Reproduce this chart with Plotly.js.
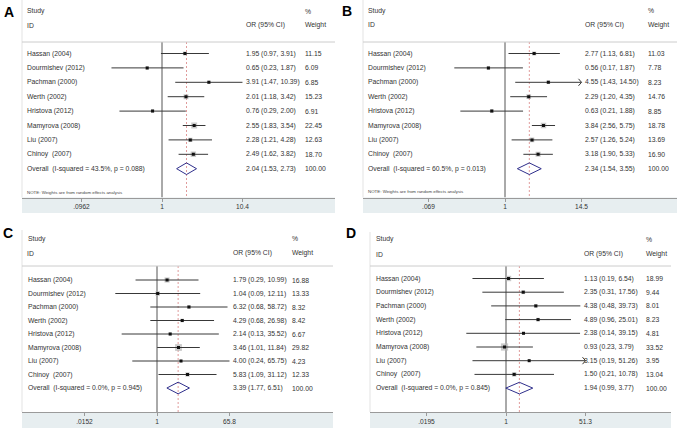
<!DOCTYPE html>
<html>
<head>
<meta charset="utf-8">
<script src="https://cdn.plot.ly/plotly-3.0.1.min.js"></script>
<style>html,body{margin:0;padding:0;background:#fff;}#chart{width:677px;height:433px;}</style>
</head>
<body>
<div id="chart"></div>
<script>
// ---------- data ----------
const studies = ['Hassan (2004)', 'Dourmishev (2012)', 'Pachman (2000)', 'Werth (2002)', 'Hristova (2012)', 'Mamyrova (2008)', 'Liu (2007)', 'Chinoy\u00a0 (2007)'];

const orA = [1.95, 0.65, 3.91, 2.01, 0.76, 2.55, 2.28, 2.49];
const loA = [0.97, 0.23, 1.47, 1.18, 0.29, 1.83, 1.21, 1.62];
const hiA = [3.91, 1.87, 10.39, 3.42, 2.00, 3.54, 4.28, 3.82];
const wA  = [11.15, 6.09, 6.85, 15.23, 6.91, 22.45, 12.63, 18.70];
const overallA = [2.04, 1.53, 2.73];
const hetA = 'I-squared = 43.5%, p = 0.088';
const ticksA = [0.0962, 1, 10.4];
const tickTextA = ['.0962', '1', '10.4'];
const arrowA = [false, false, false, false, false, false, false, false];

const orB = [2.77, 0.56, 4.55, 2.29, 0.63, 3.84, 2.57, 3.18];
const loB = [1.13, 0.17, 1.43, 1.20, 0.21, 2.56, 1.26, 1.90];
const hiB = [6.81, 1.87, 14.50, 4.35, 1.88, 5.75, 5.24, 5.33];
const wB  = [11.03, 7.78, 8.23, 14.76, 8.85, 18.78, 13.69, 16.90];
const overallB = [2.34, 1.54, 3.55];
const hetB = 'I-squared = 60.5%, p = 0.013';
const ticksB = [0.069, 1, 14.5];
const tickTextB = ['.069', '1', '14.5'];
const arrowB = [false, false, true, false, false, false, false, false];

const orC = [1.79, 1.04, 6.32, 4.29, 2.14, 3.46, 4.00, 5.83];
const loC = [0.29, 0.09, 0.68, 0.68, 0.13, 1.01, 0.24, 1.09];
const hiC = [10.99, 12.11, 58.72, 26.98, 35.52, 11.84, 65.75, 31.12];
const wC  = [16.88, 13.33, 8.32, 8.42, 6.67, 29.82, 4.23, 12.33];
const overallC = [3.39, 1.77, 6.51];
const hetC = 'I-squared = 0.0%, p = 0.945';
const ticksC = [0.0152, 1, 65.8];
const tickTextC = ['.0152', '1', '65.8'];
const arrowC = [false, false, false, false, false, false, false, false];

const orD = [1.13, 2.35, 4.38, 4.89, 2.38, 0.93, 3.15, 1.50];
const loD = [0.19, 0.31, 0.48, 0.96, 0.14, 0.23, 0.19, 0.21];
const hiD = [6.54, 17.56, 39.73, 25.01, 39.15, 3.79, 51.26, 10.78];
const wD  = [18.99, 9.44, 8.01, 8.23, 4.81, 33.52, 3.95, 13.04];
const overallD = [1.94, 0.99, 3.77];
const hetD = 'I-squared = 0.0%, p = 0.845';
const ticksD = [0.0195, 1, 51.3];
const tickTextD = ['.0195', '1', '51.3'];
const arrowD = [false, false, false, false, false, false, true, false];

const noteText = 'NOTE: Weights are from random effects analysis';

// ---------- layout geometry (pixels) ----------
const W = 677, H = 433;
const panels = [
  {letter: 'A', or: orA, lo: loA, hi: hiA, w: wA, overall: overallA, het: hetA, ticks: ticksA, tickText: tickTextA, arrow: arrowA, note: true,
   g: {left: 22, right: 335, top: 0, bottom: 197.5, band: 213, row0: 53.5, step: 14.4, studyY: 11, idY: 25, sepY: 42, noteY: 192, nullPx: 162, loPx: 82, hiPx: 243, tS: 25, tOR: 244, tW: 303, lx: 9, ly: 12}},
  {letter: 'B', or: orB, lo: loB, hi: hiB, w: wB, overall: overallB, het: hetB, ticks: ticksB, tickText: tickTextB, arrow: arrowB, note: true,
   g: {left: 363, right: 677, top: 0, bottom: 197.5, band: 213, row0: 53.5, step: 14.4, studyY: 10.5, idY: 24.5, sepY: 42, noteY: 191.5, nullPx: 505, loPx: 428, hiPx: 581, tS: 366, tOR: 583, tW: 646, lx: 347, ly: 11}},
  {letter: 'C', or: orC, lo: loC, hi: hiC, w: wC, overall: overallC, het: hetC, ticks: ticksC, tickText: tickTextC, arrow: arrowC, note: false,
   g: {left: 22, right: 333, top: 230, bottom: 412, band: 428, row0: 280, step: 13.5, studyY: 239, idY: 253.5, sepY: 266, noteY: null, nullPx: 157, loPx: 82, hiPx: 227, tS: 25.5, tOR: 231, tW: 290, lx: 8, ly: 233}},
  {letter: 'D', or: orD, lo: loD, hi: hiD, w: wD, overall: overallD, het: hetD, ticks: ticksD, tickText: tickTextD, arrow: arrowD, note: false,
   g: {left: 370, right: 671, top: 232, bottom: 412, band: 428, row0: 278.5, step: 13.7, studyY: 239, idY: 254, sepY: 266, noteY: null, nullPx: 506, loPx: 426, hiPx: 585, tS: 374, tOR: 582, tW: 644, lx: 351, ly: 233}}
];

const FONT = 'Liberation Sans, Arial, Helvetica, sans-serif';
const TXT = '#333';
const fs = 6.8;
const traces = [];
const annotations = [];
const shapes = [];
const layout = {
  width: W, height: H, margin: {l: 0, r: 0, t: 0, b: 0},
  paper_bgcolor: '#fff', plot_bgcolor: '#fff', showlegend: false,
  font: {family: FONT, color: TXT, size: fs}
};

const f2 = v => v.toFixed(2);

panels.forEach((p, k) => {
  const g = p.g;
  const sfx = k === 0 ? '' : String(k + 1);
  const xa = 'x' + sfx, ya = 'y' + sfx;
  const xDom = xa + ' domain';
  const lg = Math.log10;
  const scale = (g.hiPx - g.loPx) / (lg(p.ticks[2]) - lg(p.ticks[0]));
  const xr = [-(g.nullPx - g.left) / scale, (g.right - g.nullPx) / scale];
  const rowOf = py => (py - g.row0) / g.step;
  const yr = [rowOf(g.bottom), rowOf(g.top)];

  layout['xaxis' + sfx] = {
    domain: [g.left / W, g.right / W], anchor: ya, type: 'log', range: xr,
    tickmode: 'array', tickvals: p.ticks, ticktext: p.tickText,
    showline: true, linecolor: '#9a9a9a', linewidth: 1, ticks: 'outside', ticklen: 3, tickcolor: '#9a9a9a', tickwidth: 1,
    showgrid: false, zeroline: false, tickfont: {size: 6.6, color: '#333', family: FONT}, fixedrange: true
  };
  layout['yaxis' + sfx] = {
    domain: [1 - g.bottom / H, 1 - g.top / H], anchor: xa, range: yr, visible: false, fixedrange: true
  };

  shapes.push({type: 'rect', xref: 'paper', yref: 'paper', x0: g.left / W, x1: g.right / W, y0: 1 - g.band / H, y1: 1 - g.bottom / H,
    fillcolor: '#e7eef0', line: {width: 0}, layer: 'below'});
  shapes.push({type: 'line', xref: 'paper', yref: 'paper', x0: g.left / W, x1: g.left / W, y0: 1 - g.bottom / H, y1: 1 - g.top / H,
    line: {color: '#e3e3e3', width: 1}});
  shapes.push({type: 'line', xref: xDom, yref: ya, x0: 0, x1: 1, y0: rowOf(g.sepY), y1: rowOf(g.sepY),
    line: {color: '#cccccc', width: 1}});

  const rows = p.or.map((_, i) => i);
  const nRows = rows.length;
  const ySep = rowOf(g.sepY), yBot = rowOf(g.bottom);
  const xMax = p.ticks[2];

  traces.push({x: [1, 1], y: [ySep, yBot], xaxis: xa, yaxis: ya, mode: 'lines', line: {color: '#555', width: 1}, hoverinfo: 'skip'});
  traces.push({x: [p.overall[0], p.overall[0]], y: [ySep, yBot], xaxis: xa, yaxis: ya, mode: 'lines',
    line: {color: '#dc9090', width: 0.9, dash: '2px,2px'}, hoverinfo: 'skip'});

  traces.push({x: p.or, y: rows, xaxis: xa, yaxis: ya, mode: 'markers',
    marker: {symbol: 'square', size: p.w.map(v => 1.25 * Math.sqrt(v)), color: '#b5b5b5', line: {width: 0}}, hoverinfo: 'skip'});

  const cx = [], cy = [];
  rows.forEach(i => {
    cx.push(p.lo[i], p.arrow[i] ? xMax : p.hi[i], null);
    cy.push(i, i, null);
  });
  traces.push({x: cx, y: cy, xaxis: xa, yaxis: ya, mode: 'lines', line: {color: '#383838', width: 1}, hoverinfo: 'skip'});

  const ax = [], ay = [];
  const back = Math.pow(10, -3 / scale);
  const half = 3.5 / g.step;
  rows.forEach(i => {
    if (p.arrow[i]) {
      ax.push(xMax * back, xMax, xMax * back, null);
      ay.push(i - half, i, i + half, null);
    }
  });
  if (ax.length) traces.push({x: ax, y: ay, xaxis: xa, yaxis: ya, mode: 'lines', line: {color: '#383838', width: 1}, hoverinfo: 'skip'});

  traces.push({x: p.or, y: rows, xaxis: xa, yaxis: ya, mode: 'markers',
    marker: {symbol: 'square', size: 3, color: '#111', line: {width: 0}}, hoverinfo: 'skip'});

  const ov = nRows;
  const dh = 5.8 / g.step;
  traces.push({x: [p.overall[1], p.overall[0], p.overall[2], p.overall[0], p.overall[1]],
    y: [ov, ov - dh, ov, ov + dh, ov], xaxis: xa, yaxis: ya, mode: 'lines',
    line: {color: '#2f2f8c', width: 1}, hoverinfo: 'skip'});

  const fx = px => (px - g.left) / (g.right - g.left);
  const ann = (text, px, yv, extra) => annotations.push(Object.assign({
    text: text, xref: xDom, yref: ya, x: fx(px), y: yv, xanchor: 'left', yanchor: 'middle',
    showarrow: false, font: {size: fs, color: TXT, family: FONT}
  }, extra || {}));

  ann('Study', g.tS, rowOf(g.studyY));
  ann('ID', g.tS, rowOf(g.idY));
  ann('OR (95% CI)', g.tOR, rowOf(g.idY));
  ann('%', g.tW, rowOf(g.studyY));
  ann('Weight', g.tW, rowOf(g.idY));
  rows.forEach(i => {
    ann(studies[i], g.tS, i);
    ann(`${f2(p.or[i])} (${f2(p.lo[i])}, ${f2(p.hi[i])})`, g.tOR, i);
    ann(f2(p.w[i]), g.tW, i);
  });
  ann('Overall\u00a0 (' + p.het + ')', g.tS, ov);
  ann(`${f2(p.overall[0])} (${f2(p.overall[1])}, ${f2(p.overall[2])})`, g.tOR, ov);
  ann('100.00', g.tW, ov);
  if (p.note) ann(noteText, g.tS, rowOf(g.noteY), {font: {size: 4.4, color: '#444', family: FONT}});

  annotations.push({text: '<b>' + p.letter + '</b>', xref: 'paper', yref: 'paper', x: g.lx / W, y: 1 - g.ly / H,
    xanchor: 'center', yanchor: 'middle', showarrow: false, font: {size: 14, color: '#000', family: FONT}});
});

layout.annotations = annotations;
layout.shapes = shapes;
Plotly.newPlot('chart', traces, layout, {staticPlot: true, displayModeBar: false});
</script>
</body>
</html>
